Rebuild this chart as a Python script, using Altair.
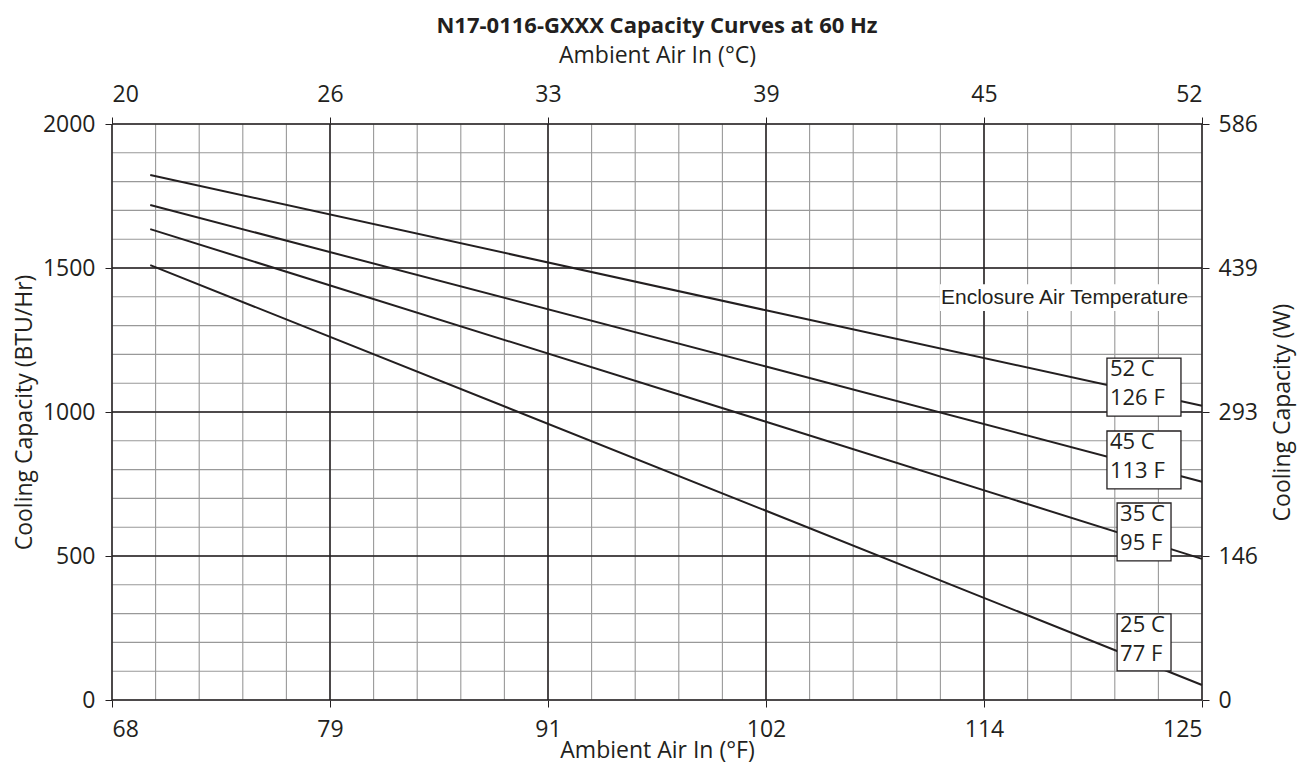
import altair as alt
import pandas as pd

# ---- data ----
x_points_f = [70, 102.2, 125]                      # ambient air in (°F)
series_names = ["52 C", "45 C", "35 C", "25 C"]
cap_52 = [1823, 1353, 1022]                        # BTU/Hr
cap_45 = [1719, 1158, 758]
cap_35 = [1635, 966, 490]
cap_25 = [1510, 657, 52]

major_f = [68, 79.4, 90.8, 102.2, 113.6, 125]
minor_f = [68 + 2.28 * k for k in range(26)]
major_btu = [0, 500, 1000, 1500, 2000]
minor_btu = list(range(0, 2001, 100))

box_labels = ["52 C\n126 F", "45 C\n113 F", "35 C\n95 F", "25 C\n77 F"]
box_x1 = [120.03, 120.03, 120.56, 120.56]
box_x2 = [123.9, 123.9, 123.38, 123.38]
box_y1 = [986, 733, 483, 101]
box_y2 = [1187, 934, 684, 299]

legend_title = "Enclosure Air Temperature"

FONT = "Open Sans"
INK = "#231f20"
W, H = 1090, 576

xs = alt.Scale(domain=[68, 125], nice=False, zero=False)
ys = alt.Scale(domain=[0, 2000], nice=False, zero=True)

curves = pd.DataFrame(
    [
        {"f": x, "btu": v, "series": name}
        for name, vals in zip(series_names, [cap_52, cap_45, cap_35, cap_25])
        for x, v in zip(x_points_f, vals)
    ]
)

minor_x_df = pd.DataFrame({"f": minor_f})
minor_y_df = pd.DataFrame({"btu": minor_btu})
major_x_df = pd.DataFrame({"f": major_f})
major_y_df = pd.DataFrame({"btu": major_btu})
boxes = pd.DataFrame(
    {"label": box_labels, "x1": box_x1, "x2": box_x2, "y1": box_y1, "y2": box_y2}
)
legend_df = pd.DataFrame({"t": [legend_title], "x1": [111.3], "x2": [124.27], "y1": [1351], "y2": [1444], "ym": [1397]})

axis_common = dict(
    labelFont=FONT, labelFontSize=23, labelColor=INK,
    titleFont=FONT, titleFontSize=23, titleFontWeight="normal", titleColor=INK,
    tickColor=INK, tickSize=7, tickWidth=1, domain=False, grid=False,
)

minor_v = alt.Chart(minor_x_df).mark_rule(color="#999999", strokeWidth=1.1).encode(
    x=alt.X("f:Q", scale=xs, axis=None)
)
minor_h = alt.Chart(minor_y_df).mark_rule(color="#999999", strokeWidth=1.1).encode(
    y=alt.Y("btu:Q", scale=ys, axis=None)
)
major_v = alt.Chart(major_x_df).mark_rule(color=INK, strokeWidth=1.5).encode(
    x=alt.X(
        "f:Q", scale=xs,
        axis=alt.Axis(
            orient="bottom", values=major_f, title="Ambient Air In (°F)",
            labelExpr="format(datum.value, '.0f')", labelPadding=11,
            titleX=W / 2, titleY=57, titleBaseline="alphabetic", titleAlign="center",
            **axis_common
        ),
    )
)
major_h = alt.Chart(major_y_df).mark_rule(color=INK, strokeWidth=1.5).encode(
    y=alt.Y(
        "btu:Q", scale=ys,
        axis=alt.Axis(
            orient="left", values=major_btu, title="Cooling Capacity (BTU/Hr)",
            labelExpr="format(datum.value, '.0f')", labelPadding=10,
            titleAngle=270, titleX=-88, titleY=H / 2, titleBaseline="middle", titleAlign="center",
            **axis_common
        ),
    )
)

lines = alt.Chart(curves).mark_line(color=INK, strokeWidth=2).encode(
    x=alt.X(
        "f:Q", scale=xs,
        axis=alt.Axis(
            orient="top", values=major_f, title="Ambient Air In (°C)",
            labelExpr="format((datum.value - 32) * 5 / 9, '.0f')",
            labelPadding=11, titlePadding=16,
            **axis_common
        ),
    ),
    y=alt.Y(
        "btu:Q", scale=ys,
        axis=alt.Axis(
            orient="right", values=major_btu, title="Cooling Capacity (W)",
            labelExpr="floor(datum.value * 0.293071)", labelPadding=9,
            titleAngle=270, titleX=80, titleY=H / 2, titleBaseline="middle", titleAlign="center",
            **axis_common
        ),
    ),
    detail="series:N",
)

legend_bg = alt.Chart(legend_df).mark_rect(fill="white").encode(
    x=alt.X("x1:Q", scale=xs, axis=None), x2="x2:Q",
    y=alt.Y("y1:Q", scale=ys, axis=None), y2="y2:Q",
)
legend_txt = alt.Chart(legend_df).mark_text(
    font="Liberation Sans", fontSize=21, align="left", baseline="middle", color=INK, dx=1
).encode(
    x=alt.X("x1:Q", scale=xs, axis=None),
    y=alt.Y("ym:Q", scale=ys, axis=None),
    text="t:N",
)

box_rect = alt.Chart(boxes).mark_rect(fill="white", stroke=INK, strokeWidth=1.3).encode(
    x=alt.X("x1:Q", scale=xs, axis=None), x2="x2:Q",
    y=alt.Y("y1:Q", scale=ys, axis=None), y2="y2:Q",
)
box_text = alt.Chart(boxes).mark_text(
    font=FONT, fontSize=22, align="left", baseline="top", color=INK,
    lineBreak="\n", lineHeight=29, dx=3, dy=1,
).encode(
    x=alt.X("x1:Q", scale=xs, axis=None),
    y=alt.Y("y2:Q", scale=ys, axis=None),
    text="label:N",
)

chart = (
    alt.layer(minor_v, minor_h, major_v, major_h, lines, legend_bg, legend_txt, box_rect, box_text)
    .resolve_axis(x="independent", y="independent")
    .properties(
        width=W,
        height=H,
        title=alt.TitleParams(
            "N17-0116-GXXX Capacity Curves at 60 Hz",
            font=FONT, fontSize=22, fontWeight="bold", color=INK,
            anchor="middle", offset=6,
        ),
        autosize=alt.AutoSizeParams(type="none"),
        padding={"left": 104, "top": 116, "right": 100, "bottom": 64},
    )
    .configure_view(stroke=None)
)

chart.save("out.html", embed_options={"renderer": "svg", "actions": False})
